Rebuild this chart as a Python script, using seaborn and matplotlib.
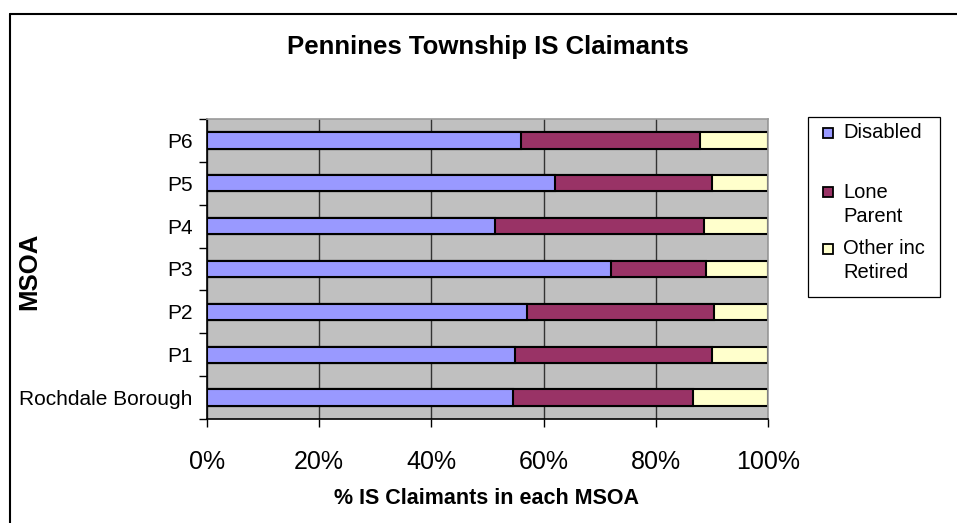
import numpy as np
import pandas as pd
import matplotlib
matplotlib.use("Agg")
import matplotlib.pyplot as plt
import seaborn as sns
from matplotlib.patches import Rectangle
from matplotlib.lines import Line2D
from matplotlib.ticker import FixedLocator

# ---- data ----
categories = ["P6", "P5", "P4", "P3", "P2", "P1", "Rochdale Borough"]
disabled = [56.0, 62.1, 51.3, 72.0, 57.1, 54.9, 54.5]
lone_parent = [31.8, 27.9, 37.3, 16.9, 33.3, 35.1, 32.2]
other_retired = [12.2, 10.0, 11.4, 11.1, 9.6, 10.0, 13.3]
series_names = ["Disabled", "Lone\nParent", "Other inc\nRetired"]
series_colors = ["#9999FF", "#993366", "#FFFFCC"]
x_ticks = [0, 20, 40, 60, 80, 100]
x_tick_labels = ["0%", "20%", "40%", "60%", "80%", "100%"]
title = "Pennines Township IS Claimants"
x_label = "% IS Claimants in each MSOA"
y_label = "MSOA"

df = pd.DataFrame({"MSOA": categories, "Disabled": disabled,
                   "Lone": lone_parent, "Other": other_retired})
df["cum1"] = df["Disabled"]
df["cum2"] = df["cum1"] + df["Lone"]
df["cum3"] = df["cum2"] + df["Other"]

sns.set_style("white")
plt.rcParams["font.family"] = ["Liberation Sans", "DejaVu Sans"]
plt.rcParams["text.color"] = "black"
plt.rcParams["xtick.color"] = "black"
plt.rcParams["ytick.color"] = "black"
plt.rcParams["axes.labelcolor"] = "black"

W, H = 957, 523
fig = plt.figure(figsize=(W / 100, H / 100), dpi=100)

def fx(x):
    return x / W

def fy(y):
    return 1 - y / H

left, right, top, bottom = 207, 768, 119, 419
ax = fig.add_axes([fx(left), fy(bottom), (right - left) / W, (bottom - top) / H])
ax.set_facecolor("#C0C0C0")

for col, color in zip(["cum3", "cum2", "cum1"], series_colors[::-1]):
    sns.barplot(data=df, x=col, y="MSOA", orient="h", color=color,
                saturation=1, edgecolor="black", linewidth=1.5,
                width=0.38, ax=ax, order=categories)

ax.set_xlim(0, 100)
ax.set_ylim(len(categories) - 0.5, -0.5)
ax.set_xticks(x_ticks)
ax.set_xticklabels(x_tick_labels, fontsize=18)
ax.tick_params(axis="x", bottom=True, direction="out", length=6, width=1,
               color="black", labelcolor="black", pad=16)
ax.set_yticks(range(len(categories)))
ax.set_yticklabels(categories, fontsize=15)
ax.tick_params(axis="y", which="major", left=True, length=0, pad=10.5, labelcolor="black")
ax.yaxis.set_minor_locator(FixedLocator(np.arange(-0.5, len(categories), 1.0)))
ax.tick_params(axis="y", which="minor", left=True, direction="out", length=6,
               width=1, color="black")

ax.xaxis.grid(True, color="#333333", linewidth=1)
ax.yaxis.grid(False)
ax.set_axisbelow(True)

for s in ["left", "bottom"]:
    ax.spines[s].set_color("black")
    ax.spines[s].set_linewidth(1.2)
for s in ["top", "right"]:
    ax.spines[s].set_color("#9A9A9A")
    ax.spines[s].set_linewidth(1.2)

ax.set_xlabel("")
ax.set_ylabel("")

fig.text(fx(488), fy(47), title, fontsize=18.5, fontweight="bold", ha="center",
         va="center", color="black")
fig.text(fx(487), fy(499), x_label, fontsize=15.5, fontweight="bold", ha="center",
         va="center", color="black")
fig.text(fx(29), fy(271), y_label, fontsize=18.5, fontweight="bold", ha="center",
         va="center", rotation=90, color="black")

# legend box
fig.patches.append(Rectangle((fx(808), fy(297)), (940 - 808) / W, (297 - 117) / H,
                             transform=fig.transFigure, facecolor="white",
                             edgecolor="black", linewidth=0.9))
first_line_y = [133, 192, 249]
for name, color, yy in zip(series_names, series_colors, first_line_y):
    fig.patches.append(Rectangle((fx(823), fy(yy + 5)), 10 / W, 10 / H,
                                 transform=fig.transFigure, facecolor=color,
                                 edgecolor="black", linewidth=1.3))
    for i, line in enumerate(name.split("\n")):
        fig.text(fx(843), fy(yy + i * 24), line, fontsize=14.5, ha="left",
                 va="center", color="black")

# outer chart border
fig.lines.append(Line2D([fx(10), 1.0], [fy(14), fy(14)], transform=fig.transFigure,
                        color="black", linewidth=1.5))
fig.lines.append(Line2D([fx(10), fx(10)], [fy(14), 0.0], transform=fig.transFigure,
                        color="black", linewidth=1.5))

fig.savefig("out.png", dpi=100, facecolor="white")
